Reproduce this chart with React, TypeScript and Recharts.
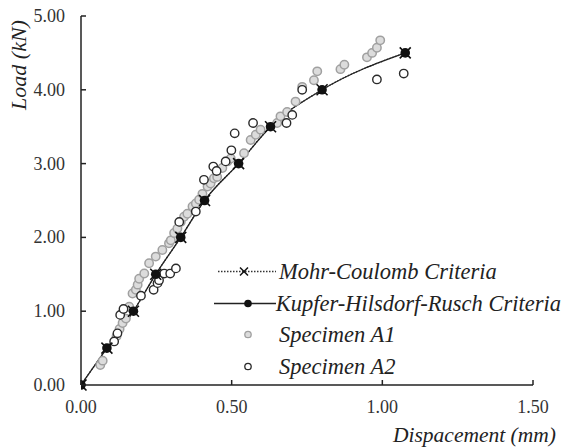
import { ComposedChart, Legend, Line, Scatter, XAxis, YAxis } from "recharts";

const FONT = "Liberation Serif";

const xTicks = [0, 0.5, 1.0, 1.5];
const yTicks = [0, 1, 2, 3, 4, 5];

const mohrCoulomb = [
  { x: 0, y: 0 },
  { x: 0.086, y: 0.5 },
  { x: 0.174, y: 1.0 },
  { x: 0.248, y: 1.5 },
  { x: 0.331, y: 2.0 },
  { x: 0.41, y: 2.5 },
  { x: 0.523, y: 3.0 },
  { x: 0.629, y: 3.5 },
  { x: 0.8, y: 4.0 },
  { x: 1.076, y: 4.5 },
];

const kupferHilsdorfRusch = [
  { x: 0, y: 0 },
  { x: 0.086, y: 0.5 },
  { x: 0.174, y: 1.0 },
  { x: 0.248, y: 1.5 },
  { x: 0.331, y: 2.0 },
  { x: 0.41, y: 2.5 },
  { x: 0.523, y: 3.0 },
  { x: 0.629, y: 3.5 },
  { x: 0.8, y: 4.0 },
  { x: 1.076, y: 4.5 },
];

const specimenA1 = [
  { x: 0.064, y: 0.27 }, { x: 0.072, y: 0.33 }, { x: 0.118, y: 0.66 }, { x: 0.128, y: 0.76 },
  { x: 0.138, y: 0.84 }, { x: 0.149, y: 0.9 }, { x: 0.16, y: 1.06 }, { x: 0.171, y: 1.24 },
  { x: 0.182, y: 1.29 }, { x: 0.188, y: 1.36 }, { x: 0.193, y: 1.44 }, { x: 0.21, y: 1.51 },
  { x: 0.226, y: 1.65 }, { x: 0.248, y: 1.74 }, { x: 0.27, y: 1.83 }, { x: 0.292, y: 1.92 },
  { x: 0.298, y: 1.96 }, { x: 0.309, y: 2.06 }, { x: 0.32, y: 2.12 }, { x: 0.331, y: 2.21 },
  { x: 0.342, y: 2.28 }, { x: 0.353, y: 2.32 }, { x: 0.37, y: 2.42 }, { x: 0.381, y: 2.46 },
  { x: 0.392, y: 2.51 }, { x: 0.403, y: 2.59 }, { x: 0.42, y: 2.69 }, { x: 0.43, y: 2.73 },
  { x: 0.441, y: 2.8 }, { x: 0.452, y: 2.82 }, { x: 0.469, y: 2.94 }, { x: 0.486, y: 3.03 },
  { x: 0.497, y: 3.07 }, { x: 0.541, y: 3.14 }, { x: 0.563, y: 3.32 }, { x: 0.58, y: 3.39 },
  { x: 0.596, y: 3.46 }, { x: 0.651, y: 3.55 }, { x: 0.662, y: 3.64 }, { x: 0.684, y: 3.7 },
  { x: 0.712, y: 3.84 }, { x: 0.734, y: 4.04 }, { x: 0.773, y: 4.13 }, { x: 0.784, y: 4.25 },
  { x: 0.861, y: 4.28 }, { x: 0.874, y: 4.34 }, { x: 0.949, y: 4.44 }, { x: 0.966, y: 4.5 },
  { x: 0.982, y: 4.57 }, { x: 0.993, y: 4.67 },
];

const specimenA2 = [
  { x: 0.11, y: 0.59 }, { x: 0.121, y: 0.7 }, { x: 0.13, y: 0.95 }, { x: 0.141, y: 1.03 },
  { x: 0.199, y: 1.21 }, { x: 0.241, y: 1.29 }, { x: 0.254, y: 1.38 }, { x: 0.259, y: 1.42 },
  { x: 0.276, y: 1.51 }, { x: 0.296, y: 1.51 }, { x: 0.315, y: 1.58 }, { x: 0.326, y: 2.21 },
  { x: 0.381, y: 2.35 }, { x: 0.408, y: 2.78 }, { x: 0.439, y: 2.96 }, { x: 0.45, y: 2.9 },
  { x: 0.48, y: 3.03 }, { x: 0.499, y: 3.18 }, { x: 0.51, y: 3.41 }, { x: 0.571, y: 3.55 },
  { x: 0.682, y: 3.55 }, { x: 0.701, y: 3.66 }, { x: 0.734, y: 4.0 }, { x: 0.982, y: 4.14 },
  { x: 1.071, y: 4.22 },
];

const legendNames = [
  "Mohr-Coulomb Criteria",
  "Kupfer-Hilsdorf-Rusch Criteria",
  "Specimen A1",
  "Specimen A2",
];

const Y_MARGIN = 16;
const X_MARGIN = 28;

function YTick(props: any) {
  const { x, y, payload } = props;
  const ax = x + Y_MARGIN;
  return (
    <g>
      <line x1={ax} x2={ax + 5} y1={y} y2={y} stroke="#222" strokeWidth={1.5} />
      <text x={x} y={y + 6} textAnchor="end" fontFamily={FONT} fontSize={18} fill="#333">
        {Number(payload.value).toFixed(2)}
      </text>
    </g>
  );
}

function XTick(props: any) {
  const { x, y, payload } = props;
  const ay = y - X_MARGIN;
  return (
    <g>
      <line x1={x} x2={x} y1={ay} y2={ay - 5} stroke="#222" strokeWidth={1.5} />
      <text x={x} y={y} textAnchor="middle" fontFamily={FONT} fontSize={18} fill="#333">
        {Number(payload.value).toFixed(2)}
      </text>
    </g>
  );
}

function CrossDot(props: any) {
  const { cx, cy } = props;
  if (cx == null || cy == null) return null;
  const s = 5.5;
  return (
    <path
      d={`M${cx - s},${cy - s}L${cx + s},${cy + s}M${cx - s},${cy + s}L${cx + s},${cy - s}`}
      stroke="#111"
      strokeWidth={1.6}
      fill="none"
    />
  );
}

function FilledDot(props: any) {
  const { cx, cy } = props;
  if (cx == null || cy == null) return null;
  return <circle cx={cx} cy={cy} r={4.8} fill="#111" stroke="none" />;
}

function GrayCircle(props: any) {
  return <circle cx={props.cx} cy={props.cy} r={4.2} fill="#dcdcdc" stroke="#a0a0a0" strokeWidth={1.5} />;
}

function HollowCircle(props: any) {
  return <circle cx={props.cx} cy={props.cy} r={4.2} fill="#fff" stroke="#2a2a2a" strokeWidth={1.4} />;
}

function LegendIcon({ index }: { index: number }) {
  if (index === 0) {
    return (
      <svg width={68} height={31}>
        <line x1={7} x2={65} y1={15.5} y2={15.5} stroke="#333" strokeWidth={1.3} strokeDasharray="1.5 1.5" />
        <path d="M29,11.5L37,19.5M29,19.5L37,11.5" stroke="#111" strokeWidth={1.5} />
      </svg>
    );
  }
  if (index === 1) {
    return (
      <svg width={68} height={31}>
        <line x1={3} x2={65} y1={15.5} y2={15.5} stroke="#222" strokeWidth={1.3} />
        <circle cx={37} cy={15.5} r={3.8} fill="#111" />
      </svg>
    );
  }
  if (index === 2) {
    return (
      <svg width={68} height={31}>
        <circle cx={37} cy={15.5} r={3.2} fill="#dcdcdc" stroke="#a0a0a0" strokeWidth={1.3} />
      </svg>
    );
  }
  return (
    <svg width={68} height={31}>
      <circle cx={37} cy={15.5} r={3.2} fill="#fff" stroke="#2a2a2a" strokeWidth={1.3} />
    </svg>
  );
}

function LegendBox() {
  return (
    <div style={{ fontFamily: FONT, fontStyle: "italic", fontSize: 22.5, color: "#222" }}>
      {legendNames.map((name, i) => (
        <div key={name} style={{ display: "flex", alignItems: "center", height: 31.6 }}>
          <LegendIcon index={i} />
          <span style={{ marginLeft: 0, lineHeight: "31.6px", whiteSpace: "nowrap" }}>{name}</span>
        </div>
      ))}
    </div>
  );
}

export default function App() {
  return (
    <div style={{ position: "absolute", left: 0, top: 0, width: 569, height: 448, background: "#fff" }}>
      <ComposedChart
        width={569}
        height={448}
        margin={{ top: 16, right: 36, left: 0, bottom: 0 }}
      >
        <XAxis
          type="number"
          dataKey="x"
          domain={[0, 1.5]}
          ticks={xTicks}
          height={63}
          tickLine={false}
          tickSize={0}
          tickMargin={X_MARGIN}
          tick={<XTick />}
          axisLine={{ stroke: "#222", strokeWidth: 1.5 }}
          allowDataOverflow
          label={{
            content: () => (
              <text x={556} y={442} textAnchor="end" fontFamily={FONT} fontStyle="italic" fontSize={21.5} fill="#222">
                Dispacement (mm)
              </text>
            ),
          }}
        />
        <YAxis
          type="number"
          dataKey="y"
          domain={[0, 5]}
          ticks={yTicks}
          width={81}
          tickLine={false}
          tickSize={0}
          tickMargin={Y_MARGIN}
          tick={<YTick />}
          axisLine={{ stroke: "#222", strokeWidth: 1.5 }}
          label={{
            content: () => (
              <text
                x={26}
                y={65}
                transform="rotate(-90, 26, 65)"
                textAnchor="middle"
                fontFamily={FONT}
                fontStyle="italic"
                fontSize={22}
                fill="#222"
              >
                Load (kN)
              </text>
            ),
          }}
        />
        <Legend
          layout="vertical"
          align="center"
          verticalAlign="middle"
          content={() => <LegendBox />}
          wrapperStyle={{ left: 211, top: 256, width: 350 }}
        />
        <Scatter
          name="Specimen A1"
          data={specimenA1}
          dataKey="y"
          shape={<GrayCircle />}
          isAnimationActive={false}
        />
        <Scatter
          name="Specimen A2"
          data={specimenA2}
          dataKey="y"
          shape={<HollowCircle />}
          isAnimationActive={false}
        />
        <Line
          name="Mohr-Coulomb Criteria"
          data={mohrCoulomb}
          dataKey="y"
          type="monotone"
          stroke="#333"
          strokeWidth={1.3}
          strokeDasharray="1.5 1.5"
          dot={<CrossDot />}
          activeDot={false}
          isAnimationActive={false}
        />
        <Line
          name="Kupfer-Hilsdorf-Rusch Criteria"
          data={kupferHilsdorfRusch}
          dataKey="y"
          type="monotone"
          stroke="#222"
          strokeWidth={1.3}
          dot={<FilledDot />}
          activeDot={false}
          isAnimationActive={false}
        />
      </ComposedChart>
    </div>
  );
}
